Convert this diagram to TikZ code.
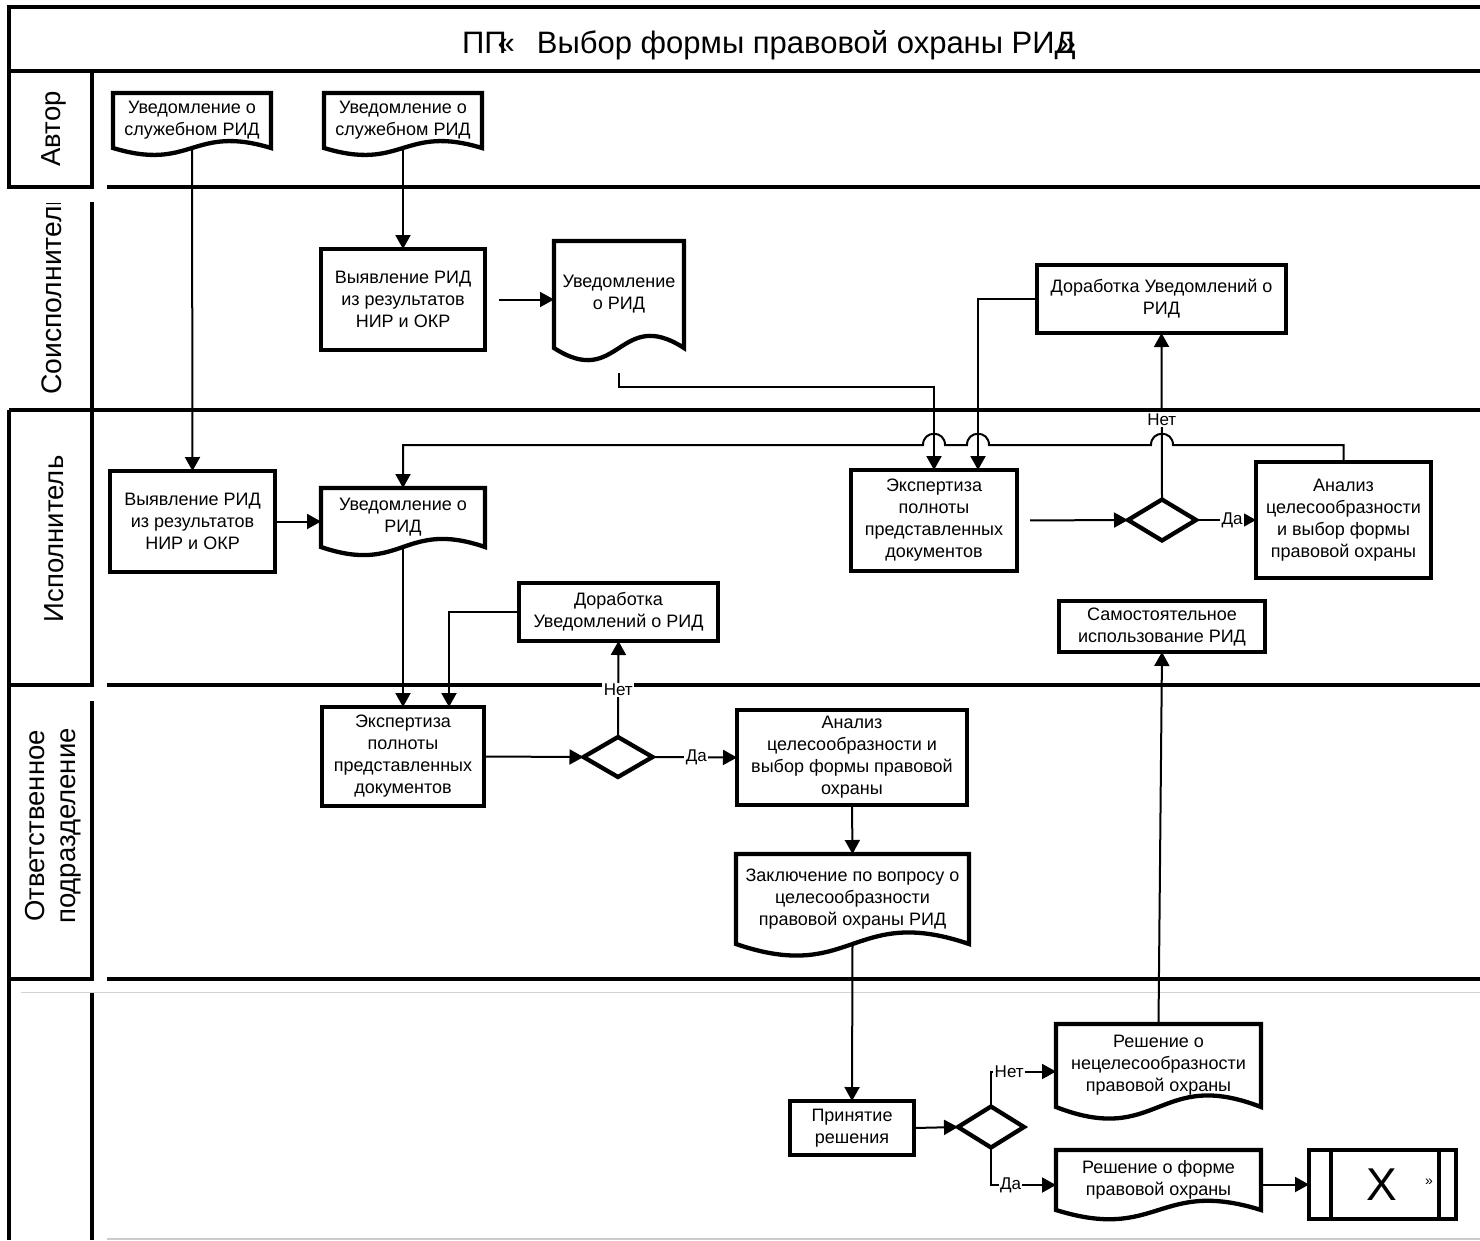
\documentclass[tikz,border=0pt]{standalone}
\usepackage{fontspec}
\setmainfont{Liberation Sans}
\usetikzlibrary{arrows.meta,shapes.geometric,calc}
\newcommand\rkNode{\fontsize{18}{22}\selectfont}
\newcommand\rkLbl{\fontsize{17}{19}\selectfont}
\newcommand\rkLane{\fontsize{27.5}{31}\selectfont}
\newcommand\rkTitle{\fontsize{31}{34}\selectfont}
\newcommand\docpath[2]{\draw[boxline] (#1.south west) -- (#1.north west) -- (#1.north east) -- (#1.south east) .. controls ($(#1.south)+(0,-#2)$) and ($(#1.south)+(0,#2)$) .. (#1.south west) -- cycle;}
\tikzset{
  boxline/.style={line width=4.3pt, line join=miter},
  proc/.style={draw, line width=4.3pt, rectangle, inner sep=2pt, align=center, font=\rkNode, outer sep=0pt},
  docnode/.style={rectangle, inner sep=2pt, align=center, font=\rkNode, outer sep=0pt},
  dec/.style={draw, diamond, line width=4.3pt, inner sep=0pt, outer sep=0pt},
  conn/.style={line width=2pt},
  arr/.style={conn, -{Triangle[length=14pt,width=15pt]}},
  lbl/.style={fill=white, inner sep=1.5pt, font=\rkLbl},
  lane/.style={line width=4.5pt},
  lanelabel/.style={rotate=90, font=\rkLane, align=center, inner sep=0pt}
}
\begin{document}
\begin{tikzpicture}[x=1pt,y=-1pt]
\useasboundingbox (0,0) rectangle (1480,1240);
% frame and lanes
\draw[lane] (1480,7) -- (9,7) -- (9,71) -- (1480,71);
\draw[lane] (9,71) -- (9,187) -- (92,187) -- (92,71);
\draw[lane] (107,187) -- (1480,187);
\draw[lane] (92,202) -- (92,410);
\draw[lane] (9,410) -- (1480,410);
\draw[lane] (9,410) -- (9,685) -- (92,685) -- (92,410);
\draw[lane] (107,685) -- (1480,685);
\draw[lane] (9,685) -- (9,979) -- (92,979) -- (92,701);
\draw[lane] (107,979) -- (1480,979);
\draw[lane] (9,979) -- (9,1240);
\draw[lane] (92,992) -- (92,1240);
\draw[gray!35, line width=1pt] (21,992) -- (1480,992);
\draw[gray!40, line width=1.5pt] (107,1239) -- (1480,1239);
% title
\node[font=\rkTitle] (title) at (769,45) {ПП\kern-9pt«\hspace{22pt}Выбор формы правовой охраны РИД\kern-17pt»};
% lane labels
\node[lanelabel] (lA) at (54,129) {Автор};
\begin{scope}
\clip (9,203) rectangle (92,410);
\node[lanelabel, font=\fontsize{28.3}{31}\selectfont] (lS) at (52,293) {Соисполнитель};
\end{scope}
\node[lanelabel] (lI) at (54,539) {Исполнитель};
\node[lanelabel] (lO) at (53.5,826) {Ответственное\\подразделение};
% Автор
\node[docnode, minimum width=158pt, minimum height=55pt] (a1) at (192,120.5) {Уведомление о\\служебном РИД};
\docpath{a1}{24}
\node[docnode, minimum width=158pt, minimum height=55pt] (a2) at (403,120.5) {Уведомление о\\служебном РИД};
\docpath{a2}{24}
% Соисполнитель
\node[proc, minimum width=164pt, minimum height=101pt] (s1) at (403,299.5) {Выявление РИД\\из результатов\\НИР и ОКР};
\node[docnode, minimum width=130pt, minimum height=107pt] (s2) at (619,294.5) {Уведомление\\о РИД};
\docpath{s2}{42}
\node[proc, minimum width=249pt, minimum height=68pt] (s3) at (1161.5,299) {Доработка Уведомлений о\\РИД};
% Исполнитель
\node[proc, minimum width=165pt, minimum height=101pt] (i1) at (192.5,521.5) {Выявление РИД\\из результатов\\НИР и ОКР};
\node[docnode, minimum width=164pt, minimum height=59pt] (i2) at (403,517.5) {Уведомление о\\РИД};
\docpath{i2}{28}
\node[proc, minimum width=166pt, minimum height=101pt] (i3) at (934,520.5) {Экспертиза\\полноты\\представленных\\документов};
\node[dec, minimum width=68pt, minimum height=41pt] (i4) at (1162,520) {};
\node[proc, minimum width=175pt, minimum height=116pt] (i5) at (1343.5,520) {Анализ\\целесообразности\\и выбор формы\\правовой охраны};
\node[proc, minimum width=206pt, minimum height=51pt] (i6) at (1162,626.5) {Самостоятельное\\использование РИД};
\node[proc, minimum width=199pt, minimum height=58pt] (i7) at (618.5,612) {Доработка\\Уведомлений о РИД};
% Ответственное подразделение
\node[proc, minimum width=162pt, minimum height=99pt] (o1) at (403,756.5) {Экспертиза\\полноты\\представленных\\документов};
\node[dec, minimum width=69pt, minimum height=40pt] (o2) at (618,757) {};
\node[proc, minimum width=230pt, minimum height=95pt] (o3) at (852,757.5) {Анализ\\целесообразности и\\выбор формы правовой\\охраны};
\node[docnode, minimum width=233pt, minimum height=90pt] (o4) at (852.5,899) {Заключение по вопросу о\\целесообразности\\правовой охраны РИД};
\docpath{o4}{40}
% last lane
\node[proc, minimum width=124pt, minimum height=54pt] (p1) at (852,1128) {Принятие\\решения};
\node[dec, minimum width=66pt, minimum height=41pt] (p2) at (991,1127) {};
\node[docnode, minimum width=205pt, minimum height=83pt] (p3) at (1158.5,1065.5) {Решение о\\нецелесообразности\\правовой охраны};
\docpath{p3}{40}
\node[docnode, minimum width=205pt, minimum height=60pt] (p4) at (1158.5,1180) {Решение о форме\\правовой охраны};
\docpath{p4}{32}
\node[proc, minimum width=147pt, minimum height=69pt] (p5) at (1382.5,1184.5) {};
\draw[boxline] ($(p5.north west)+(22,0)$) -- ($(p5.south west)+(22,0)$);
\draw[boxline] ($(p5.north east)+(-17,0)$) -- ($(p5.south east)+(-17,0)$);
\node[font=\fontsize{46}{46}\selectfont, inner sep=0pt] (px) at (1382,1185) {Х};
\node[font=\fontsize{14}{14}\selectfont, inner sep=0pt] (pq) at (1429,1182) {»};
% connectors
\draw[arr] (a1.south) -- (i1.north);
\draw[arr] (a2.south) -- (s1.north);
\draw[arr, shorten <=14pt] (s1.east) -- (s1.east -| s2.west);
\draw[arr] ($(s2.south)+(0,25)$) -- ++(0,14) -| (i3.north);
\draw[arr] (s3.west) -| ($(i3.north)+(44,0)$);
\draw[arr] (i4.north) -- node[lbl, pos=0.48] {Нет} (s3.south);
\draw[arr] (i5.north) |- (1173,445) .. controls (1173,430) and (1151,430) .. (1151,445) -- (989,445) .. controls (989,430) and (967,430) .. (967,445) -- (945,445) .. controls (945,430) and (923,430) .. (923,445) -| (i2.north);
\draw[arr] (i1.east) -- (i1.east -| i2.west);
\draw[arr] (i2.south) -- (o1.north);
\draw[arr] (i7.west) -| ($(o1.north)+(46,0)$);
\draw[arr, shorten <=13pt] (i3.east) -- (i4.west);
\draw[arr] (i4.east) -- node[lbl, pos=0.6] {Да} (i5.west);
\draw[arr] (p3.north) -- (i6.south);
\draw[arr] (o1.east) -- (o2.west);
\draw[arr] (o2.north) -- node[lbl, pos=0.49] {Нет} (i7.south);
\draw[arr] (o2.east) -- node[lbl, pos=0.52] {Да} (o3.west);
\draw[arr] (o3.south) -- (o4.north);
\draw[arr] (o4.south) -- (p1.north);
\draw[arr] (p1.east) -- (p2.west);
\draw[arr] (p2.north) |- node[lbl, pos=0.64] {Нет} ($(p3.west)+(0,6)$);
\draw[arr] (p2.south) |- node[lbl, pos=0.65] {Да} ($(p4.west)+(0,5)$);
\draw[arr] (p4.east |- p5.west) -- (p5.west);
\end{tikzpicture}
\end{document}
